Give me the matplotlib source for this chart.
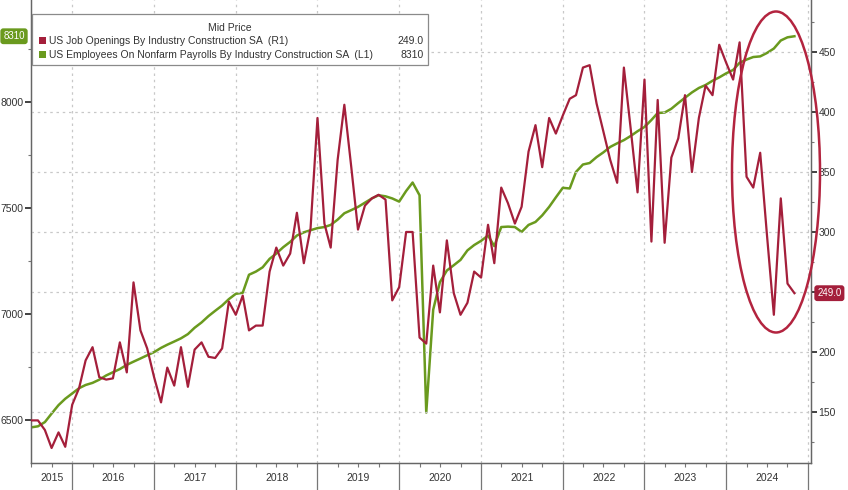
import matplotlib
matplotlib.use('Agg')
import matplotlib.pyplot as plt
import matplotlib.dates as mdates
import matplotlib.transforms as mtransforms
from matplotlib.patches import Ellipse, Rectangle
from matplotlib.ticker import FixedLocator, MultipleLocator, NullFormatter
import pandas as pd

# ---------------- data ----------------
dates = pd.date_range('2015-07-01', periods=113, freq='MS')

employment = [6465, 6470, 6490, 6530, 6570, 6600, 6625, 6650, 6665, 6675,
              6690, 6710, 6725, 6740, 6760, 6775, 6790, 6805, 6820, 6840,
              6855, 6870, 6885, 6905, 6935, 6960, 6990, 7015, 7040, 7070,
              7095, 7100, 7185, 7200, 7220, 7260, 7285, 7315, 7340, 7370,
              7385, 7395, 7405, 7410, 7420, 7445, 7475, 7490, 7505, 7525,
              7545, 7560, 7555, 7545, 7530, 7580, 7620, 7560, 6535, 7020,
              7150, 7205, 7230, 7255, 7300, 7325, 7345, 7370, 7320, 7410,
              7412, 7410, 7387, 7420, 7434, 7465, 7505, 7550, 7595, 7592,
              7670, 7705, 7712, 7740, 7762, 7788, 7805, 7820, 7840, 7862,
              7882, 7915, 7948, 7950, 7968, 7995, 8020, 8045, 8066, 8080,
              8100, 8116, 8135, 8151, 8185, 8200, 8212, 8215, 8231, 8252,
              8290, 8305, 8310]

openings = [143, 143, 135, 120, 133, 121, 156, 170, 193, 204,
            179, 177, 178, 208, 183, 258, 218, 203, 179, 158,
            187, 172, 204, 171, 202, 208, 196, 195, 203, 242,
            231, 247, 218, 222, 222, 267, 287, 272, 282, 316,
            274, 303, 395, 307, 287, 360, 406, 354, 302, 322,
            328, 331, 327, 243, 254, 300, 300, 212, 207, 272,
            233, 293, 249, 231, 241, 267, 262, 306, 274, 337,
            324, 307, 321, 367, 389, 354, 395, 382, 397, 411,
            414, 437, 439, 407, 384, 360, 341, 437, 385, 333,
            427, 292, 410, 291, 362, 378, 414, 350, 395, 422,
            414, 456, 441, 427, 458, 346, 337, 366, 298, 231,
            328, 257, 249]

years = [2015, 2016, 2017, 2018, 2019, 2020, 2021, 2022, 2023, 2024]
left_ticks = [6500, 7000, 7500, 8000]
right_ticks = [150, 200, 250, 300, 350, 400, 450]
right_labels = ['150', '200', '', '300', '350', '400', '450']

series_openings = 'US Job Openings By Industry Construction SA  (R1)'
series_employment = 'US Employees On Nonfarm Payrolls By Industry Construction SA  (L1)'
last_openings = '249.0'
last_employment = '8310'

# ---------------- style ----------------
RED = '#a41f3b'
GREEN = '#6a9a1e'
TXT = '#333333'
GRID = '#c8c8c8'
FONT = 'Liberation Sans'
plt.rcParams['font.family'] = [FONT, 'DejaVu Sans']

W, H = 848, 490
fig = plt.figure(figsize=(W / 100, H / 100), dpi=100)
fig.patch.set_facecolor('white')


def fx(x):
    return x / W


def fy(y):
    return 1 - y / H


L, R, T, B = 31, 811, 0, 463
ax = fig.add_axes([fx(L), fy(B), (R - L) / W, (B - T) / H])
ax2 = ax.twinx()

ax.plot(dates, employment, color=GREEN, lw=1.8, zorder=3)
ax2.plot(dates, openings, color=RED, lw=1.6, zorder=3)

ax.set_xlim(pd.Timestamp('2015-07-01'), pd.Timestamp('2025-01-14'))
ax.set_ylim(6297, 8481)
ax2.set_ylim(107.5, 493.3)

# grid
for yv in right_ticks:
    ax2.axhline(yv, color=GRID, lw=0.9, ls=(0, (2, 3)), zorder=1)
year_bounds = [pd.Timestamp(f'{y}-01-01') for y in range(2016, 2026)]
for d in year_bounds:
    ax.axvline(d, color=GRID, lw=0.9, ls=(0, (2, 3)), zorder=1)

# spines
for a in (ax, ax2):
    a.spines['top'].set_visible(False)
    for s in ('left', 'right', 'bottom'):
        a.spines[s].set_color('#666666')
        a.spines[s].set_linewidth(0.9)

# y ticks
ax.yaxis.set_major_locator(FixedLocator(left_ticks))
ax.yaxis.set_minor_locator(MultipleLocator(250))
ax.tick_params(axis='y', which='major', length=4, width=1.3, color='#333333',
               labelsize=7.5, labelcolor=TXT, pad=1.5)
ax.tick_params(axis='y', which='minor', length=2, width=0.8, color='#777777')

ax2.yaxis.set_major_locator(FixedLocator(right_ticks))
ax2.set_yticklabels(right_labels)
ax2.yaxis.set_minor_locator(MultipleLocator(25))
ax2.tick_params(axis='y', which='major', length=4, width=1.3, color='#333333',
                labelsize=7.5, labelcolor=TXT, pad=1.5)
ax2.tick_params(axis='y', which='minor', length=2, width=0.8, color='#777777')

# x ticks
ax.xaxis.set_major_locator(FixedLocator(mdates.date2num(year_bounds)))
ax.xaxis.set_major_formatter(NullFormatter())
ax.xaxis.set_minor_locator(mdates.MonthLocator(bymonth=[4, 7, 10]))
ax.xaxis.set_minor_formatter(NullFormatter())
ax.tick_params(axis='x', which='major', length=20, width=0.9, color='#777777')
ax.tick_params(axis='x', which='minor', length=3, width=0.8, color='#777777')

trans = mtransforms.blended_transform_factory(ax.transData, ax.transAxes)
x0, x1 = ax.get_xlim()
for y in years:
    a = max(mdates.date2num(pd.Timestamp(f'{y}-01-01')), x0)
    b = min(mdates.date2num(pd.Timestamp(f'{y + 1}-01-01')), x1)
    ax.text((a + b) / 2, -0.033, str(y), transform=trans, ha='center',
            va='center', fontsize=7.5, color=TXT)

# legend box
fig.add_artist(Rectangle((fx(32), fy(65)), (428 - 32) / W, (65 - 14) / H,
                         transform=fig.transFigure, facecolor='white',
                         edgecolor='#8a8a8a', lw=0.9, zorder=5))
fig.text(fx(230), fy(28), 'Mid Price', ha='center', va='center',
         fontsize=7.5, color=TXT, zorder=6)
fig.add_artist(Rectangle((fx(39), fy(44)), 7 / W, 7 / H, transform=fig.transFigure,
                         facecolor=RED, edgecolor='none', zorder=6))
fig.add_artist(Rectangle((fx(39), fy(58)), 7 / W, 7 / H, transform=fig.transFigure,
                         facecolor=GREEN, edgecolor='none', zorder=6))
fig.text(fx(49), fy(40.5), series_openings, ha='left', va='center',
         fontsize=7.5, color=TXT, zorder=6)
fig.text(fx(49), fy(54.5), series_employment, ha='left', va='center',
         fontsize=7.5, color=TXT, zorder=6)
fig.text(fx(424), fy(40.5), last_openings, ha='right', va='center',
         fontsize=7.5, color=TXT, zorder=6)
fig.text(fx(424), fy(54.5), last_employment, ha='right', va='center',
         fontsize=7.5, color=TXT, zorder=6)

# last value tags
ax.text(-0.008, employment[-1], last_employment,
        transform=mtransforms.blended_transform_factory(ax.transAxes, ax.transData),
        ha='right', va='center', fontsize=7, color='white', clip_on=False, zorder=10,
        bbox=dict(boxstyle='round,pad=0.3', fc=GREEN, ec='none'))
ax2.text(1.008, openings[-1], last_openings,
         transform=mtransforms.blended_transform_factory(ax2.transAxes, ax2.transData),
         ha='left', va='center', fontsize=7, color='white', clip_on=False, zorder=10,
         bbox=dict(boxstyle='round,pad=0.3', fc=RED, ec='none'))

# highlight ellipse
fig.add_artist(Ellipse((fx(776), fy(172)), 88 / W, 321 / H, transform=fig.transFigure,
                       fill=False, edgecolor='#b3243f', lw=1.8, zorder=4))

fig.savefig('out.png', dpi=100)
